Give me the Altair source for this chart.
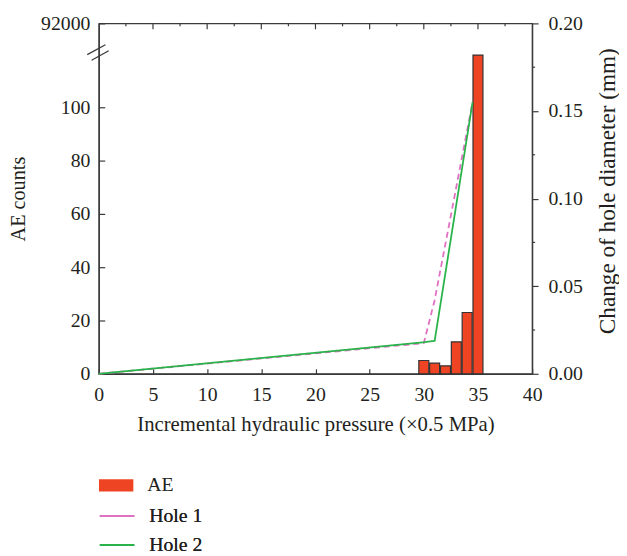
import altair as alt
import pandas as pd

# ---- data ----
pressure = [30, 31, 32, 33, 34, 35]
ae_counts = [5, 4, 3, 12, 23, 119.6]          # last bar runs into the broken part of the axis
hole1_x = [0, 30, 31, 34.5]
hole1_y = [0.0, 0.0175, 0.042, 0.155]
hole2_x = [0, 30, 31, 34.5]
hole2_y = [0.0, 0.018, 0.0188, 0.155]
x_ticks = [0, 5, 10, 15, 20, 25, 30, 35, 40]
top_major = [5, 10, 15, 20, 25, 30, 35]
top_minor = [2.5, 7.5, 12.5, 17.5, 22.5, 27.5, 32.5, 37.5]
left_ticks = [0, 20, 40, 60, 80, 100, 131.5]
left_top_label = "92000"
right_major = [0.0, 0.05, 0.10, 0.15, 0.20]
right_minor = [0.025, 0.075, 0.125, 0.175]

FONT = "Liberation Serif"
TEXT = "#231f20"
AX = "#3a3a3a"
RED = "#ef4424"
PINK = "#e070c2"
GREEN = "#2bb34b"
W, H = 439, 355

bars_df = pd.DataFrame({"x": pressure, "ae": ae_counts, "series": ["AE"] * len(pressure)})
lines_df = pd.concat([
    pd.DataFrame({"x": hole1_x, "d": hole1_y, "series": "Hole 1"}),
    pd.DataFrame({"x": hole2_x, "d": hole2_y, "series": "Hole 2"}),
])
xscale = alt.Scale(domain=[0, 40], nice=False, zero=False)
ae_scale = alt.Scale(domain=[0, 131.5], nice=False)
d_scale = alt.Scale(domain=[0, 0.2], nice=False)

LEG = dict(title=None, orient="none", legendX=0, padding=0, clipHeight=20, labelOffset=14,
           labelFont=FONT, labelFontSize=20, labelColor=TEXT, labelFontWeight="normal")

bars = alt.Chart(bars_df).transform_calculate(
    x0="datum.x - 0.46", x1="datum.x + 0.46"
).mark_bar(stroke="#333333", strokeWidth=1.2).encode(
    x=alt.X("x0:Q", scale=xscale, axis=None),
    x2="x1:Q",
    y=alt.Y("ae:Q", scale=ae_scale, axis=alt.Axis(
        orient="left", values=left_ticks, title="AE counts",
        labelExpr=f"datum.value > 120 ? '{left_top_label}' : datum.label",
        tickSize={"expr": "-6"}, labelPadding=15,
        titleX=-81.5, titleY=H / 2, titleBaseline="middle", titleAngle=-90)),
    y2=alt.datum(0),
    fill=alt.Fill("series:N", scale=alt.Scale(domain=["AE"], range=[RED]), legend=alt.Legend(
        legendY=458, symbolType="M-1,-0.35H1V0.35H-1Z", symbolSize=1225, symbolStrokeWidth=0, **LEG)),
)

brk_df = pd.DataFrame({"k": [0]})
break1 = alt.Chart(brk_df).mark_rule(color=AX, strokeWidth=1.3).encode(
    x=alt.value(-11.7), x2=alt.value(6.7), y=alt.value(31.7), y2=alt.value(21.7))
break2 = alt.Chart(brk_df).mark_rule(color=AX, strokeWidth=1.3).encode(
    x=alt.value(-7.3), x2=alt.value(10), y=alt.value(37.3), y2=alt.value(27.7))

leg_lines = dict(legendY=489, symbolType="stroke", symbolSize=1225, symbolStrokeWidth=2,
                 rowPadding=9.5, **LEG)
lines = alt.Chart(lines_df).mark_line(strokeWidth=1.8).encode(
    x=alt.X("x:Q", scale=xscale, axis=alt.Axis(
        orient="bottom", values=x_ticks, title="Incremental hydraulic pressure (×0.5 MPa)",
        tickSize={"expr": "-5"}, labelPadding=16, labelFlush=False,
        titleY=57, titleBaseline="alphabetic", titleFontSize=21)),
    y=alt.Y("d:Q", scale=d_scale, axis=alt.Axis(
        orient="right", values=right_major, format=".2f", title="Change of hole diameter (mm)",
        tickSize=6, labelPadding=10, titleFontSize=23.5,
        titleX=83, titleY=H / 2 - 8, titleBaseline="alphabetic", titleAngle=-90)),
    stroke=alt.Stroke("series:N", scale=alt.Scale(domain=["Hole 1", "Hole 2"], range=[PINK, GREEN]),
                      legend=alt.Legend(**leg_lines)),
    strokeDash=alt.StrokeDash("series:N", scale=alt.Scale(domain=["Hole 1", "Hole 2"], range=[[6, 4], [1, 0]]),
                              legend=alt.Legend(**leg_lines)),
)

rminor = alt.Chart(pd.DataFrame({"v": right_minor})).mark_rule(color=AX, strokeWidth=1.2).encode(
    y=alt.Y("v:Q", scale=d_scale, axis=None),
    x=alt.value(W), x2=alt.value(W + 3))

tmajor = alt.Chart(pd.DataFrame({"v": top_major})).mark_rule(color=AX, strokeWidth=1.2).encode(
    x=alt.X("v:Q", scale=xscale, axis=None), y=alt.value(0), y2=alt.value(6))
tminor = alt.Chart(pd.DataFrame({"v": top_minor})).mark_rule(color=AX, strokeWidth=1.2).encode(
    x=alt.X("v:Q", scale=xscale, axis=None), y=alt.value(0), y2=alt.value(3))

chart = alt.layer(bars, break1, break2, rminor, tmajor, tminor, lines).resolve_scale(
    y="independent", fill="independent", stroke="independent"
).resolve_axis(
    x="independent", y="independent"
).properties(
    width=W, height=H,
    autosize=alt.AutoSizeParams(type="none"),
    padding={"left": 92, "top": 12, "right": 88, "bottom": 181},
).configure_view(
    stroke=AX, strokeWidth=1.3
).configure_axis(
    grid=False, domainColor=AX, domainWidth=1.3, tickColor=AX, tickWidth=1.2,
    labelFont=FONT, labelFontSize=20, labelColor=TEXT,
    titleFont=FONT, titleFontSize=20.5, titleColor=TEXT, titleFontWeight="normal",
)

chart.save("out.html", embed_options={"renderer": "svg", "actions": False})
